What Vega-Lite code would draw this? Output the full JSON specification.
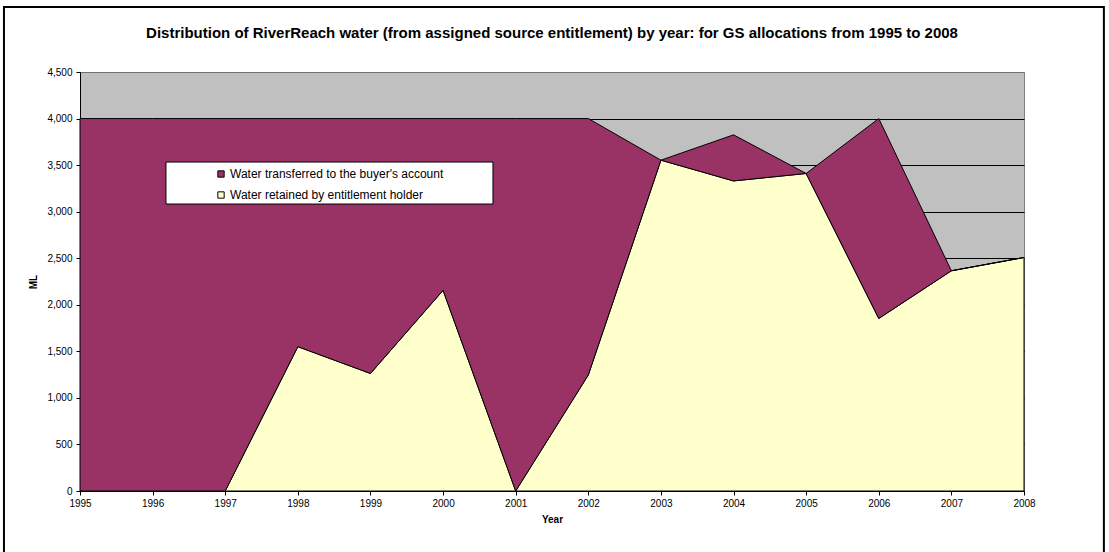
{
  "$schema": "https://vega.github.io/schema/vega-lite/v6.json",
  "width": 944,
  "height": 419,
  "autosize": "none",
  "padding": {"left": 80, "top": 72, "right": 85, "bottom": 61},
  "background": "white",
  "view": {"fill": "#C0C0C0", "stroke": "#808080", "strokeWidth": 1},
  "config": {
    "font": "Liberation Sans",
    "view": {"fill": "#C0C0C0", "stroke": "#808080", "strokeWidth": 1}
  },
  "title": {
    "text": "Distribution of RiverReach water (from assigned source entitlement) by year: for GS allocations from 1995 to 2008",
    "font": "Liberation Sans",
    "fontSize": 15,
    "fontWeight": "bold",
    "color": "black",
    "anchor": "middle",
    "offset": 0,
    "dy": 35
  },
  "data": {
    "values": [
      {"year": 1995, "series": "Water retained by entitlement holder", "ML": 0},
      {"year": 1996, "series": "Water retained by entitlement holder", "ML": 0},
      {"year": 1997, "series": "Water retained by entitlement holder", "ML": 0},
      {"year": 1998, "series": "Water retained by entitlement holder", "ML": 1550},
      {"year": 1999, "series": "Water retained by entitlement holder", "ML": 1262},
      {"year": 2000, "series": "Water retained by entitlement holder", "ML": 2155},
      {"year": 2001, "series": "Water retained by entitlement holder", "ML": 0},
      {"year": 2002, "series": "Water retained by entitlement holder", "ML": 1246},
      {"year": 2003, "series": "Water retained by entitlement holder", "ML": 3553},
      {"year": 2004, "series": "Water retained by entitlement holder", "ML": 3330},
      {"year": 2005, "series": "Water retained by entitlement holder", "ML": 3410},
      {"year": 2006, "series": "Water retained by entitlement holder", "ML": 1853},
      {"year": 2007, "series": "Water retained by entitlement holder", "ML": 2365},
      {"year": 2008, "series": "Water retained by entitlement holder", "ML": 2508},
      {"year": 1995, "series": "Water transferred to the buyer's account", "ML": 4000},
      {"year": 1996, "series": "Water transferred to the buyer's account", "ML": 4000},
      {"year": 1997, "series": "Water transferred to the buyer's account", "ML": 4000},
      {"year": 1998, "series": "Water transferred to the buyer's account", "ML": 2450},
      {"year": 1999, "series": "Water transferred to the buyer's account", "ML": 2738},
      {"year": 2000, "series": "Water transferred to the buyer's account", "ML": 1845},
      {"year": 2001, "series": "Water transferred to the buyer's account", "ML": 4000},
      {"year": 2002, "series": "Water transferred to the buyer's account", "ML": 2754},
      {"year": 2003, "series": "Water transferred to the buyer's account", "ML": 0},
      {"year": 2004, "series": "Water transferred to the buyer's account", "ML": 495},
      {"year": 2005, "series": "Water transferred to the buyer's account", "ML": 0},
      {"year": 2006, "series": "Water transferred to the buyer's account", "ML": 2147},
      {"year": 2007, "series": "Water transferred to the buyer's account", "ML": 0},
      {"year": 2008, "series": "Water transferred to the buyer's account", "ML": 0}
    ]
  },
  "layer": [
    {
      "mark": {"type": "area", "stroke": "black", "strokeWidth": 1, "opacity": 1, "interpolate": "linear"},
      "encoding": {
        "x": {
          "field": "year",
          "type": "quantitative",
          "scale": {"domain": [1995, 2008], "nice": false, "zero": false},
          "axis": {
            "values": [1995, 1996, 1997, 1998, 1999, 2000, 2001, 2002, 2003, 2004, 2005, 2006, 2007, 2008],
            "format": "d",
            "title": "Year",
            "grid": false,
            "labelFontSize": 10,
            "labelColor": "black",
            "labelFlush": false,
            "labelPadding": 3,
            "tickColor": "black",
            "tickSize": 4,
            "domainColor": "black",
            "titleFontSize": 10,
            "titleFontWeight": "bold",
            "titleColor": "black",
            "titlePadding": 6
          }
        },
        "y": {
          "field": "ML",
          "type": "quantitative",
          "stack": "zero",
          "scale": {"domain": [0, 4500], "nice": false},
          "axis": {
            "values": [0, 500, 1000, 1500, 2000, 2500, 3000, 3500, 4000, 4500],
            "format": ",d",
            "title": "ML",
            "grid": true,
            "gridColor": {"condition": {"test": "datum.value === 4500", "value": "#707070"}, "value": "black"},
            "gridWidth": 1,
            "gridOpacity": 1,
            "labelFontSize": 10,
            "labelColor": "black",
            "labelPadding": 4,
            "tickColor": "black",
            "tickSize": 4,
            "domainColor": "black",
            "titleFontSize": 10,
            "titleFontWeight": "bold",
            "titleColor": "black",
            "titlePadding": 8
          }
        },
        "color": {
          "field": "series",
          "type": "nominal",
          "scale": {
            "domain": ["Water transferred to the buyer's account", "Water retained by entitlement holder"],
            "range": ["#993366", "#FFFFCC"]
          },
          "legend": {
            "orient": "none",
            "legendX": 135,
            "legendY": 96,
            "title": null,
            "padding": 0,
            "symbolType": "square",
            "symbolSize": 40,
            "symbolOpacity": 1,
            "symbolStrokeColor": "black",
            "symbolStrokeWidth": 1,
            "labelFontSize": 12,
            "labelColor": "black",
            "labelLimit": 400,
            "labelOffset": 3,
            "rowPadding": 9
          }
        },
        "order": {"field": "series", "sort": "ascending"}
      }
    },
    {
      "data": {"values": [{}]},
      "mark": {"type": "rect", "fill": "white", "stroke": "black", "strokeWidth": 1},
      "encoding": {
        "x": {"datum": 1996.184, "type": "quantitative", "scale": {"domain": [1995, 2008], "nice": false, "zero": false}},
        "x2": {"datum": 2000.687},
        "y": {"datum": 3533, "type": "quantitative", "scale": {"domain": [0, 4500], "nice": false}},
        "y2": {"datum": 3082}
      }
    },
    {
      "data": {"values": [{}]},
      "mark": {"type": "rect", "fill": null, "fillOpacity": 0, "stroke": "black", "strokeWidth": 2, "clip": false},
      "encoding": {
        "x": {"datum": 1993.953, "type": "quantitative", "scale": {"domain": [1995, 2008], "nice": false, "zero": false}},
        "x2": {"datum": 2009.1},
        "y": {"datum": 5198, "type": "quantitative", "scale": {"domain": [0, 4500], "nice": false}},
        "y2": {"datum": -741}
      }
    }
  ]
}
